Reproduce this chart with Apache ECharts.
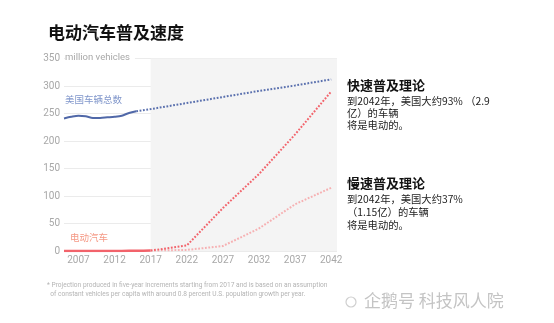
<!DOCTYPE html>
<html>
<head>
<meta charset="utf-8">
<script src="https://cdn.jsdelivr.net/npm/echarts@6/dist/echarts.min.js"></script>
<style>
  html, body { margin: 0; padding: 0; background: #fff; }
  #chart { width: 554px; height: 323px; }
</style>
</head>
<body>
<div id="chart"></div>
<script>
// Total US vehicles, historical (million)
const histYears = [2005, 2006, 2007, 2008, 2009, 2010, 2011, 2012, 2013, 2014, 2015];
const usTotalHist = [241, 244, 246, 245, 242, 242, 243, 244, 246, 251, 254];

// Total US vehicles, projection (million)
const projYears = [2015, 2017, 2022, 2027, 2032, 2037, 2042];
const usTotalProj = [254, 258, 269, 280, 291, 301, 312];

// Electric vehicles, historical (million)
const evHistYears = [2005, 2006, 2007, 2008, 2009, 2010, 2011, 2012, 2013, 2014, 2015, 2016, 2017];
const evHist = [0, 0, 0, 0, 0, 0, 0, 0.1, 0.2, 0.3, 0.4, 0.6, 0.8];

// Electric vehicle projections, five-year steps (million)
const evProjYears = [2017, 2022, 2027, 2032, 2037, 2042];
const evFast = [0.8, 10, 78, 140, 212, 290];
const evSlow = [0.8, 2, 9, 41, 85, 115];

// Axis ticks
const xTickYears = [2007, 2012, 2017, 2022, 2027, 2032, 2037, 2042];
const projectionRange = [2017, 2042.8];

const pair = (xs, ys) => xs.map((x, i) => [x, ys[i]]);

const CJK = '"Noto Sans CJK SC", "Noto Sans", sans-serif';
const LATIN = 'Roboto, "Noto Sans", sans-serif';

const chart = echarts.init(document.getElementById('chart'), null, { renderer: 'canvas' });

chart.setOption({
  backgroundColor: '#ffffff',
  animation: false,
  grid: { left: 64, right: 217, top: 58.5, bottom: 72, containLabel: false },
  xAxis: {
    type: 'value',
    min: 2005,
    max: 2042.8,
    axisLine: { show: false },
    axisTick: { show: false },
    splitLine: { show: false },
    axisLabel: {
      customValues: xTickYears,
      formatter: v => String(v),
      color: '#a8a8a8',
      fontSize: 10,
      fontFamily: LATIN,
      margin: 4
    }
  },
  yAxis: {
    type: 'value',
    min: 0,
    max: 350,
    interval: 50,
    axisLine: { show: false },
    axisTick: { show: false },
    axisLabel: { color: '#a8a8a8', fontSize: 10, fontFamily: LATIN, margin: 4 },
    splitLine: { lineStyle: { color: '#ebebeb', width: 1 } }
  },
  series: [
    {
      // shaded projection period, kept below the grid lines
      type: 'line',
      z: -1,
      data: [],
      silent: true,
      markArea: {
        silent: true,
        itemStyle: { color: '#f4f4f4' },
        data: [[{ xAxis: projectionRange[0] }, { xAxis: projectionRange[1] }]]
      }
    },
    {
      name: '美国车辆总数',
      type: 'line',
      data: pair(histYears, usTotalHist),
      showSymbol: false,
      smooth: 0.3,
      lineStyle: { color: '#5068a8', width: 2 }
    },
    {
      name: '美国车辆总数预测',
      type: 'line',
      data: pair(projYears, usTotalProj),
      showSymbol: false,
      lineStyle: { color: '#5a70ae', width: 2, type: [1.8, 1.6] }
    },
    {
      name: '电动汽车',
      type: 'line',
      data: pair(evHistYears, evHist),
      showSymbol: false,
      lineStyle: { color: '#f2636b', width: 2.5 }
    },
    {
      name: '慢速普及',
      type: 'line',
      data: pair(evProjYears, evSlow),
      showSymbol: false,
      lineStyle: { color: '#f6b0b2', width: 2, type: [1.8, 1.6] }
    },
    {
      name: '快速普及',
      type: 'line',
      data: pair(evProjYears, evFast),
      showSymbol: false,
      lineStyle: { color: '#f2636b', width: 2, type: [1.8, 1.6] }
    }
  ],
  graphic: [
    {
      type: 'text', left: 48, top: 24,
      style: { text: '电动汽车普及速度', fontSize: 17, fontWeight: 'bold', fill: '#111', fontFamily: CJK }
    },
    {
      type: 'text', left: 65, top: 52, z: 100,
      style: {
        text: 'million vehicles', fontSize: 9.5, fill: '#a8a8a8', fontFamily: LATIN,
        backgroundColor: '#fff', padding: [1, 5, 1, 0]
      }
    },
    {
      type: 'text', left: 154, top: 61,
      style: { text: 'Projection*', fontSize: 9, fill: '#c2c2c2', fontFamily: LATIN }
    },
    {
      type: 'text', left: 65, top: 95,
      style: { text: '美国车辆总数', fontSize: 9.5, fill: '#8197cb', fontFamily: CJK }
    },
    {
      type: 'text', left: 70, top: 233,
      style: { text: '电动汽车', fontSize: 9.5, fill: '#f59a86', fontFamily: CJK }
    },
    {
      type: 'text', left: 347, top: 79,
      style: { text: '快速普及理论', fontSize: 13, fontWeight: 'bold', fill: '#111', fontFamily: CJK }
    },
    {
      type: 'text', left: 347, top: 95,
      style: {
        text: '到2042年，美国大约93% （2.9\n亿）的车辆\n将是电动的。',
        fontSize: 10.3, lineHeight: 12.2, fill: '#222', fontFamily: CJK
      }
    },
    {
      type: 'text', left: 347, top: 177,
      style: { text: '慢速普及理论', fontSize: 13, fontWeight: 'bold', fill: '#111', fontFamily: CJK }
    },
    {
      type: 'text', left: 347, top: 193,
      style: {
        text: '到2042年，美国大约37%\n（1.15亿）的车辆\n将是电动的。',
        fontSize: 10.3, lineHeight: 13, fill: '#222', fontFamily: CJK
      }
    },
    {
      type: 'text', left: 47, top: 281,
      style: {
        text: '* Projection produced in five-year increments starting from 2017 and is based on an assumption\n  of constant vehicles per capita with around 0.8 percent U.S. population growth per year.',
        fontSize: 6.6, lineHeight: 9, fill: '#b4b4b4', fontFamily: LATIN
      }
    },
    {
      type: 'circle', shape: { cx: 351, cy: 302, r: 5 },
      style: { fill: 'none', stroke: '#cfcfcf', lineWidth: 1.2 }
    },
    {
      type: 'text', left: 364, top: 292,
      style: { text: '企鹅号 科技风人院', fontSize: 17, fill: '#c4c4c4', fontFamily: CJK }
    }
  ]
});
</script>
</body>
</html>
